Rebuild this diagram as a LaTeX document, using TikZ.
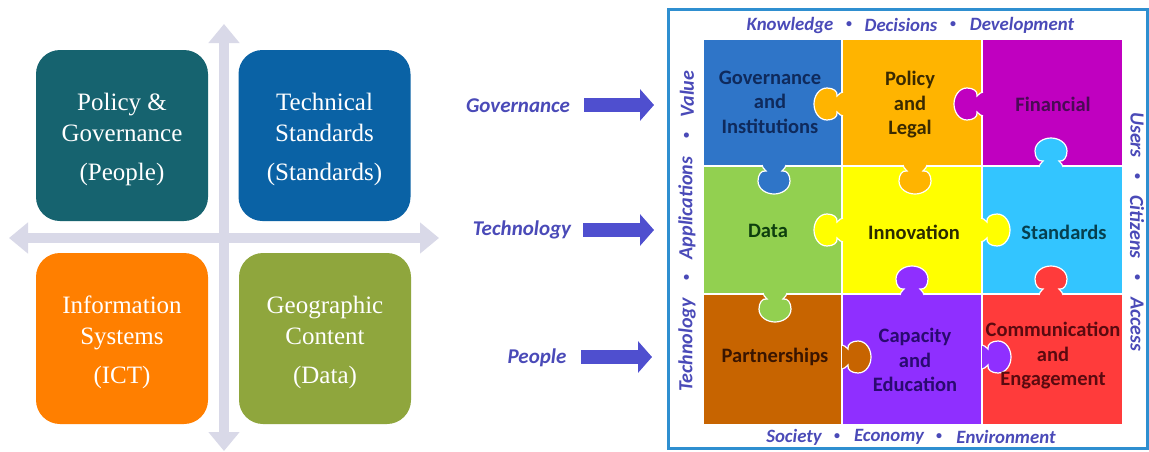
\documentclass[tikz,border=0pt]{standalone}
\usepackage{fontspec}
\setmainfont{Liberation Serif}
\newfontfamily\calfont{Carlito}
\usetikzlibrary{arrows.meta}
\definecolor{ink}{HTML}{4A4AB8}
\definecolor{crossc}{HTML}{D9D9E8}
\definecolor{arrowc}{HTML}{4F4FCF}
\definecolor{cblue}{HTML}{2F75C8}
\definecolor{corange}{HTML}{FFB400}
\definecolor{cmag}{HTML}{C000C0}
\definecolor{cgreen}{HTML}{92D050}
\definecolor{cyell}{HTML}{FFFF00}
\definecolor{ccyan}{HTML}{33C5FF}
\definecolor{cbrown}{HTML}{C76400}
\definecolor{cpurp}{HTML}{8F2FFF}
\definecolor{cred}{HTML}{FF3B3B}
\newcommand{\puzzletab}[4]{%
  \begin{scope}[shift={(#1,#2)},rotate=#3]
    \path[fill=#4,draw=white,line width=1.2pt]
      (-1,-12) .. controls (1,-11.5) and (3,-10.5) .. (5,-8)
      .. controls (4,-13) and (9,-16) .. (15,-16)
      .. controls (23,-16) and (28,-8) .. (28,0)
      .. controls (28,8) and (23,16) .. (15,16)
      .. controls (9,16) and (4,13) .. (5,8)
      .. controls (3,10.5) and (1,11.5) .. (-1,12);
  \end{scope}}
\newcommand{\qstart}{\rule{0pt}{25pt}}
\tikzset{
  x=1pt,y=-1pt,
  quad/.style={rounded corners=24pt,minimum width=172pt,minimum height=171pt,inner sep=0pt,
    align=center,text=#1,font=\fontsize{25}{31}\selectfont},
  lab/.style={align=center,font=\calfont\bfseries\fontsize{20.5}{24.5}\selectfont},
  side/.style={text=ink,font=\calfont\bfseries\itshape\fontsize{18.8}{20}\selectfont,inner sep=0pt},
  vside/.style={text=ink,font=\calfont\bfseries\itshape\fontsize{20}{20}\selectfont,inner sep=0pt},
  dotm/.style={text=ink,font=\calfont\bfseries\fontsize{12}{12}\selectfont,inner sep=0pt},
  big/.style={text=ink,font=\calfont\bfseries\itshape\fontsize{21}{22}\selectfont,inner sep=0pt},
  crossarrow/.style={draw=crossc,line width=9.5pt,{Triangle[length=19pt,width=30pt]}-{Triangle[length=19pt,width=30pt]}},
  bluearrow/.style={draw=arrowc,line width=14pt,-{Triangle[length=14pt,width=31pt]}}
}
\begin{document}
\begin{tikzpicture}
\useasboundingbox[fill=white] (0,0) rectangle (1149,451);
% cross
\coordinate (ct) at (224,24); \coordinate (cb) at (224,451);
\coordinate (cl) at (9,238);  \coordinate (cr) at (439,238);
\draw[crossarrow] (ct) -- (cb);
\draw[crossarrow] (cl) -- (cr);
% quadrants
\node[quad=white,fill={rgb,255:red,22;green,99;blue,111}] (q1) at (122,135.5) {\qstart Policy \&\\Governance\\[8pt](People)};
\node[quad=white,fill={rgb,255:red,10;green,98;blue,165}] (q2) at (324.5,135.5) {\qstart Technical\\Standards\\[8pt](Standards)};
\node[quad=white,fill={rgb,255:red,255;green,127;blue,0}] (q3) at (122,338.5) {\qstart Information\\Systems\\[8pt](ICT)};
\node[quad=white,fill={rgb,255:red,143;green,166;blue,61}] (q4) at (325,338.5) {\qstart Geographic\\Content\\[8pt](Data)};
% labels + arrows
\node[big] (lg) at (518,106) {Governance};
\node[big] (lt) at (522,230) {Technology};
\node[big] (lp) at (537,358) {People};
\coordinate (g1) at (584,105); \coordinate (g2) at (654,105);
\coordinate (t1) at (583,230); \coordinate (t2) at (654,230);
\coordinate (p1) at (581,357); \coordinate (p2) at (652,357);
\draw[bluearrow] (g1) -- (g2);
\draw[bluearrow] (t1) -- (t2);
\draw[bluearrow] (p1) -- (p2);
% frame
\draw[draw={rgb,255:red,47;green,143;blue,208},line width=3pt] (668,9) rectangle (1147,448);
% cells
\fill[cblue]   (704,40)  rectangle (842,166);
\fill[corange] (842,40)  rectangle (982,166);
\fill[cmag]    (982,40)  rectangle (1122,166);
\fill[cgreen]  (704,166) rectangle (842,294);
\fill[cyell]   (842,166) rectangle (982,294);
\fill[ccyan]   (982,166) rectangle (1122,294);
\fill[cbrown]  (704,294) rectangle (842,424);
\fill[cpurp]   (842,294) rectangle (982,424);
\fill[cred]    (982,294) rectangle (1122,424);
\draw[white,line width=1.6pt] (842,40) -- (842,424) (982,40) -- (982,424) (704,166) -- (1122,166) (704,294) -- (1122,294);
% tabs
\puzzletab{842}{104}{180}{corange}
\puzzletab{982}{104}{180}{cmag}
\puzzletab{1051}{166}{90}{ccyan}
\puzzletab{774}{166}{-90}{cblue}
\puzzletab{915}{166}{-90}{corange}
\puzzletab{842}{230}{180}{cyell}
\puzzletab{982}{230}{0}{cyell}
\puzzletab{775}{294}{-90}{cgreen}
\puzzletab{912}{294}{90}{cpurp}
\puzzletab{1051}{294}{90}{cred}
\puzzletab{843}{357}{0}{cbrown}
\puzzletab{983}{357}{0}{cpurp}
% cell labels
\node[lab,text={rgb,255:red,15;green,42;blue,92}] (n1) at (770,102) {Governance\\and\\Institutions};
\node[lab,text={rgb,255:red,58;green,42;blue,0}] (n2) at (910,105) {Policy\\and\\Legal};
\node[lab,text={rgb,255:red,74;green,10;blue,85}] (n3) at (1053,104) {Financial};
\node[lab,text={rgb,255:red,14;green,63;blue,14}] (n4) at (768,231) {Data};
\node[lab,text={rgb,255:red,42;green,42;blue,0}] (n5) at (914,232) {Innovation};
\node[lab,text={rgb,255:red,6;green,64;blue,79}] (n6) at (1064,232) {Standards};
\node[lab,text={rgb,255:red,58;green,21;blue,0}] (n7) at (775,357) {Partnerships};
\node[lab,text={rgb,255:red,42;green,10;blue,112}] (n8) at (915,360) {Capacity\\and\\Education};
\node[lab,text={rgb,255:red,90;green,10;blue,16}] (n9) at (1053,356) {Communication\\and\\Engagement};
% top
\node[side] (k1) at (790,25) {Knowledge};
\node[dotm] (k2) at (849,25) {•};
\node[side] (k3) at (901,25) {Decisions};
\node[dotm] (k4) at (953,25) {•};
\node[side] (k5) at (1022,25) {Development};
% bottom
\node[side] (b1) at (794,437) {Society};
\node[dotm] (b2) at (837,437) {•};
\node[side] (b3) at (889,437) {Economy};
\node[dotm] (b4) at (939,437) {•};
\node[side] (b5) at (1006,437) {Environment};
% left
\node[vside,rotate=90] (s1) at (687,94) {Value};
\node[dotm,rotate=90] (s2) at (687,136) {•};
\node[vside,rotate=90] (s3) at (687,208) {Applications};
\node[dotm,rotate=90] (s4) at (687,278) {•};
\node[vside,rotate=90] (s5) at (687,345) {Technology};
% right
\node[vside,rotate=-90] (r1) at (1137,135) {Users};
\node[dotm,rotate=-90] (r2) at (1137,176) {•};
\node[vside,rotate=-90] (r3) at (1137,227) {Citizens};
\node[dotm,rotate=-90] (r4) at (1137,277) {•};
\node[vside,rotate=-90] (r5) at (1137,324) {Access};
\end{tikzpicture}
\end{document}
